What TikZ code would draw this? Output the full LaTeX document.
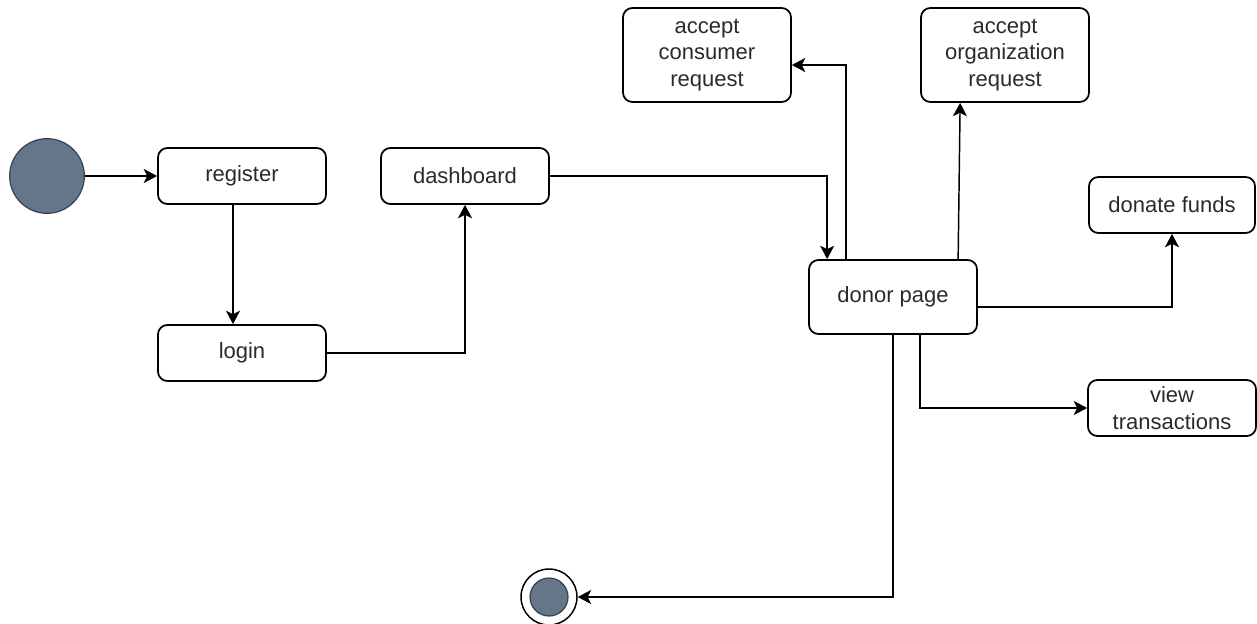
\documentclass[tikz,border=0pt]{standalone}
\usepackage{fontspec}
\setmainfont{Liberation Sans}
\usetikzlibrary{arrows.meta,calc}
\definecolor{stategray}{HTML}{647687}
\definecolor{stateline}{HTML}{314354}
\definecolor{labelgray}{HTML}{2a2a2a}
\begin{document}
\begin{tikzpicture}[x=0.75pt,y=-0.75pt]
\useasboundingbox (0,0) rectangle (1257,624);
% start and stop states
\node[circle,draw=stateline,fill=stategray,line width=0.9pt,minimum size=56pt] (start) at (47,176) {};
\node[circle,draw=black,line width=1.1pt,minimum size=42pt] (stop) at (549,597) {};
\node[circle,draw=stateline,fill=stategray,line width=0.9pt,minimum size=28.5pt] (stopin) at (stop) {};
\begin{scope}[every node/.style={draw,rounded corners=7pt,line width=1.3pt,
              minimum width=126pt,minimum height=42pt,inner sep=0pt,align=center,
              text=labelgray,font=\fontsize{16.5}{20}\selectfont}]
    \node (reg) at (242,176) {register};
    \node (login) at (242,353) {login};
    \node (dash) at (465,176) {dashboard};
    \node[minimum height=55.5pt] (donor) at (893,297) {donor page};
    \node[minimum height=70.5pt] (cons) at (707,55) {accept\\consumer\\request};
    \node[minimum height=70.5pt] (org) at (1005,55) {accept\\organization\\request};
    \node[minimum width=124.5pt] (fund) at (1172,205) {donate funds};
    \node (trans) at (1172,408) {view\\transactions};
\end{scope}
\begin{scope}[line width=1.1pt,>={Stealth[length=10pt,width=10.5pt,inset=2.5pt]}]
    \draw [->] (start) -- (reg);
    \draw [->] ($(reg.south)+(-9,0)$) -- ($(login.north)+(-9,0)$);
    \draw [->] (login.east) -| (dash.south);
    \draw [->] (dash.east) -| ($(donor.north west)+(19,0)$);
    \draw [->] ($(donor.north west)+(38,0)$) |- ($(cons.east)+(0,10)$);
    \draw [->] ($(donor.north west)+(150,0)$) -- ($(org.south west)+(40,0)$);
    \draw [->] ($(donor.east)+(0,10)$) -| (fund.south);
    \draw [->] ($(donor.south west)+(112,0)$) |- (trans.west);
    \draw [->] (donor.south) |- (stop.east);
\end{scope}
\end{tikzpicture}
\end{document}
